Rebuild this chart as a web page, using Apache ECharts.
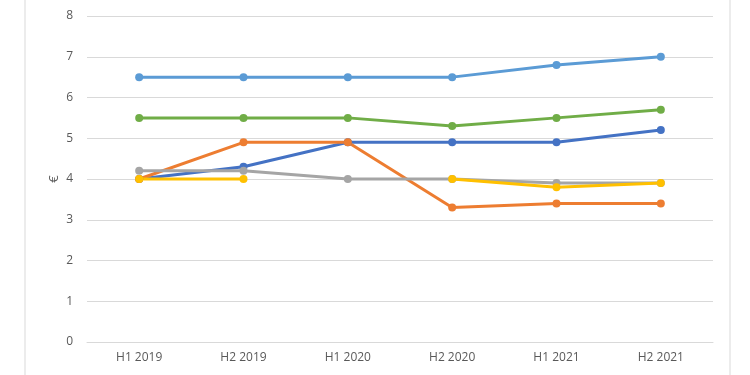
<!DOCTYPE html>
<html><head><meta charset="utf-8">
<script src="https://cdn.jsdelivr.net/npm/echarts@6/dist/echarts.min.js"></script>
<style>html,body{margin:0;padding:0;background:#fff}#c{width:750px;height:375px}</style>
</head><body><div id="c"></div>
<script>
const categories = ['H1 2019','H2 2019','H1 2020','H2 2020','H1 2021','H2 2021'];
const seriesDarkBlue = [4.0, 4.3, 4.9, 4.9, 4.9, 5.2];
const seriesOrange = [4.0, 4.9, 4.9, 3.3, 3.4, 3.4];
const seriesGray = [4.2, 4.2, 4.0, 4.0, 3.9, 3.9];
const seriesYellow = [4.0, 4.0, null, 4.0, 3.8, 3.9];
const seriesLightBlue = [6.5, 6.5, 6.5, 6.5, 6.8, 7.0];
const seriesGreen = [5.5, 5.5, 5.5, 5.3, 5.5, 5.7];
const yTicks = [0,1,2,3,4,5,6,7,8];

const chart = echarts.init(document.getElementById('c'), null, {renderer:'canvas'});
const mk = (data, color) => ({
  type:'line', data, connectNulls:false,
  symbol:'circle', symbolSize:8,
  lineStyle:{width:3, color}, itemStyle:{color},
  emphasis:{disabled:true}, animation:false
});
chart.setOption({
  animation:false,
  grid:{left:87, right:37, top:16, bottom:33},
  xAxis:{type:'category', data:categories, boundaryGap:true,
    axisLine:{show:true, lineStyle:{color:'#d9d9d9'}}, axisTick:{show:false},
    axisLabel:{color:'#595959', fontFamily:'Open Sans', fontSize:12, margin:10}},
  yAxis:{type:'value', min:yTicks[0], max:yTicks[yTicks.length-1], interval:1,
    name:'€', nameLocation:'middle', nameGap:26, nameRotate:90, nameMoveOverlap:false,
    nameTextStyle:{color:'#595959', fontFamily:'Open Sans', fontSize:13},
    axisLine:{show:false}, axisTick:{show:false},
    axisLabel:{color:'#595959', fontFamily:'Open Sans', fontSize:12, margin:14},
    splitLine:{lineStyle:{color:'#d9d9d9', width:1}}},
  graphic:[{type:'rect', shape:{x:25, y:-2, width:705, height:380},
    style:{fill:'none', stroke:'#d9d9d9', lineWidth:1}, silent:true}],
  series:[
    mk(seriesDarkBlue,'#4472C4'),
    mk(seriesOrange,'#ED7D31'),
    mk(seriesGray,'#A5A5A5'),
    mk(seriesYellow,'#FFC000'),
    mk(seriesLightBlue,'#5B9BD5'),
    mk(seriesGreen,'#70AD47')
  ]
});
</script></body></html>
